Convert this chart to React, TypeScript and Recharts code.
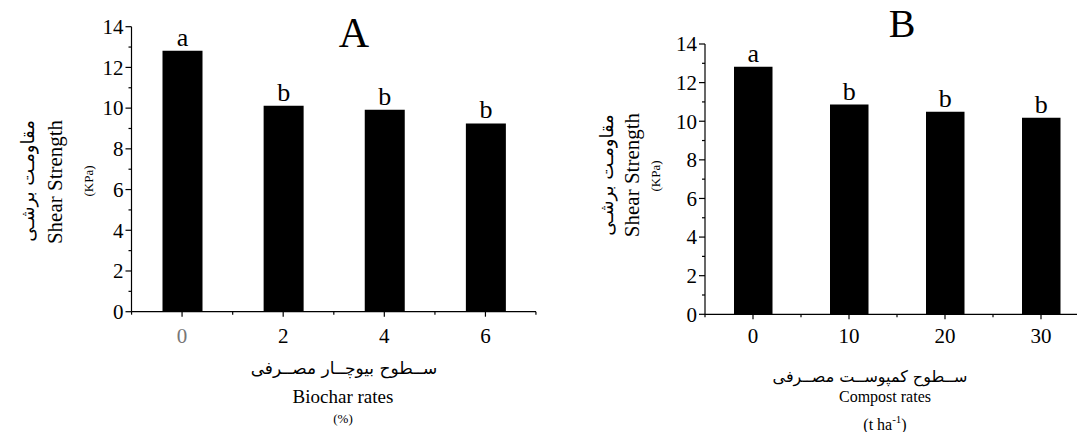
import { Bar, BarChart, LabelList, XAxis, YAxis } from "recharts";

// panel A: biochar
const biocharRates = ["0", "2", "4", "6"];
const biocharShear = [12.82, 10.12, 9.92, 9.25];
const biocharLetters = ["a", "b", "b", "b"];

// panel B: compost
const compostRates = ["0", "10", "20", "30"];
const compostShear = [12.82, 10.86, 10.49, 10.18];
const compostLetters = ["a", "b", "b", "b"];

const yTicks = [0, 1, 2, 3, 4, 5, 6, 7, 8, 9, 10, 11, 12, 13, 14];

const yTitleFa = "مقاومـت برشـی";
const yTitleEn = "Shear Strength";
const yUnit = "(KPa)";
const xTitleFaA = "ســطوح بیوچــار مصــرفی";
const xTitleEnA = "Biochar rates";
const xUnitA = "(%)";
const xTitleFaB = "ســطوح کمپوســت مصــرفی";
const xTitleEnB = "Compost rates";

const FONT = "'Liberation Serif', 'Times New Roman', serif";
const FA_FONT = "'DejaVu Sans', sans-serif";

const dataA = biocharRates.map((r, i) => ({ rate: r, value: biocharShear[i], letter: biocharLetters[i] }));
const dataB = compostRates.map((r, i) => ({ rate: r, value: compostShear[i], letter: compostLetters[i] }));

function YTick(props: any) {
  const { x, y, payload } = props;
  const major = payload.value % 2 === 0;
  return (
    <g>
      <line x1={x - (major ? 6 : 3)} x2={x} y1={y} y2={y} stroke="#000" strokeWidth={1.2} />
      {major && (
        <text x={x - 8} y={y} dy="0.35em" textAnchor="end" fontSize={21} fontFamily={FONT} fill="#000">
          {payload.value}
        </text>
      )}
    </g>
  );
}

function makeXTick(band: number, labelDy: number, firstColor: string) {
  return function XTick(props: any) {
    const { x, y, payload, index } = props;
    return (
      <g>
        <line x1={x} x2={x} y1={y} y2={y + 5} stroke="#000" strokeWidth={1.2} />
        <line x1={x - band / 2} x2={x - band / 2} y1={y} y2={y + 3} stroke="#000" strokeWidth={1.2} />
        {index === 3 && (
          <line x1={x + band / 2} x2={x + band / 2} y1={y} y2={y + 3} stroke="#000" strokeWidth={1.2} />
        )}
        <text x={x} y={y + labelDy} textAnchor="middle" fontSize={21} fontFamily={FONT}
          fill={index === 0 ? firstColor : "#000"}>
          {payload.value}
        </text>
      </g>
    );
  };
}

const XTickA = makeXTick(101, 31, "#777");
const XTickB = makeXTick(96, 29, "#000");

function Panel({ data, width, margin, barSize, XTick }: any) {
  return (
    <BarChart width={width} height={432} data={data} margin={margin}>
      <XAxis dataKey="rate" type="category" height={30} axisLine={{ stroke: "#000", strokeWidth: 1.2 }}
        tickLine={false} tickSize={0} tickMargin={0} tick={<XTick />} interval={0} />
      <YAxis type="number" domain={[0, 14]} ticks={yTicks} width={30} interval={0}
        axisLine={{ stroke: "#000", strokeWidth: 1.2 }} tickLine={false} tickSize={0} tickMargin={0}
        tick={<YTick />} />
      <Bar dataKey="value" fill="#000" barSize={barSize} isAnimationActive={false}>
        <LabelList dataKey="letter" position="top" offset={5} fontSize={26} fontFamily={FONT} fill="#000" />
      </Bar>
    </BarChart>
  );
}

function VText({ x, y, size, font, children }: any) {
  return (
    <text x={x} y={y} transform={`rotate(-90 ${x} ${y})`} textAnchor="middle" dominantBaseline="central"
      fontSize={size} fontFamily={font} fill="#000">
      {children}
    </text>
  );
}

function HText({ x, y, size, font, children }: any) {
  return (
    <text x={x} y={y} textAnchor="middle" dominantBaseline="central" fontSize={size} fontFamily={font} fill="#000">
      {children}
    </text>
  );
}

export default function App() {
  return (
    <div style={{ position: "fixed", left: 0, top: 0, width: 1077, height: 432, overflow: "hidden", background: "#fff", fontFamily: FONT }}>
      <div style={{ position: "absolute", left: 0, top: 0 }}>
        <Panel data={dataA} width={560} margin={{ top: 26.7, right: 24, bottom: 90.3, left: 101.5 }}
          barSize={40} XTick={XTickA} />
      </div>
      <div style={{ position: "absolute", left: 560, top: 0 }}>
        <Panel data={dataB} width={560} margin={{ top: 44, right: 31, bottom: 87.7, left: 115 }}
          barSize={38.5} XTick={XTickB} />
      </div>
      <svg width={1077} height={432} style={{ position: "absolute", left: 0, top: 0, pointerEvents: "none" }}>
        {/* panel A titles */}
        <text x={354} y={47} textAnchor="middle" fontSize={42} fontFamily={FONT}>A</text>
        <VText x={27} y={181} size={18} font={FA_FONT}>{yTitleFa}</VText>
        <VText x={55} y={182} size={21} font={FONT}>{yTitleEn}</VText>
        <VText x={88} y={181} size={13} font={FONT}>{yUnit}</VText>
        <HText x={344} y={368} size={17} font={FA_FONT}>{xTitleFaA}</HText>
        <HText x={343} y={396} size={19} font={FONT}>{xTitleEnA}</HText>
        <HText x={343} y={418} size={13} font={FONT}>{xUnitA}</HText>

        {/* panel B titles */}
        <text x={902} y={37} textAnchor="middle" fontSize={40} fontFamily={FONT}>B</text>
        <VText x={606} y={175} size={18} font={FA_FONT}>{yTitleFa}</VText>
        <VText x={632} y={175} size={21} font={FONT}>{yTitleEn}</VText>
        <VText x={655} y={176} size={13} font={FONT}>{yUnit}</VText>
        <HText x={870} y={376} size={16} font={FA_FONT}>{xTitleFaB}</HText>
        <HText x={885} y={396} size={16} font={FONT}>{xTitleEnB}</HText>
        <text x={885} y={430} textAnchor="middle" fontSize={16} fontFamily={FONT}>
          <tspan>(t ha</tspan>
          <tspan dy={-7} fontSize={11}>-1</tspan>
          <tspan dy={7}>)</tspan>
        </text>
      </svg>
    </div>
  );
}
